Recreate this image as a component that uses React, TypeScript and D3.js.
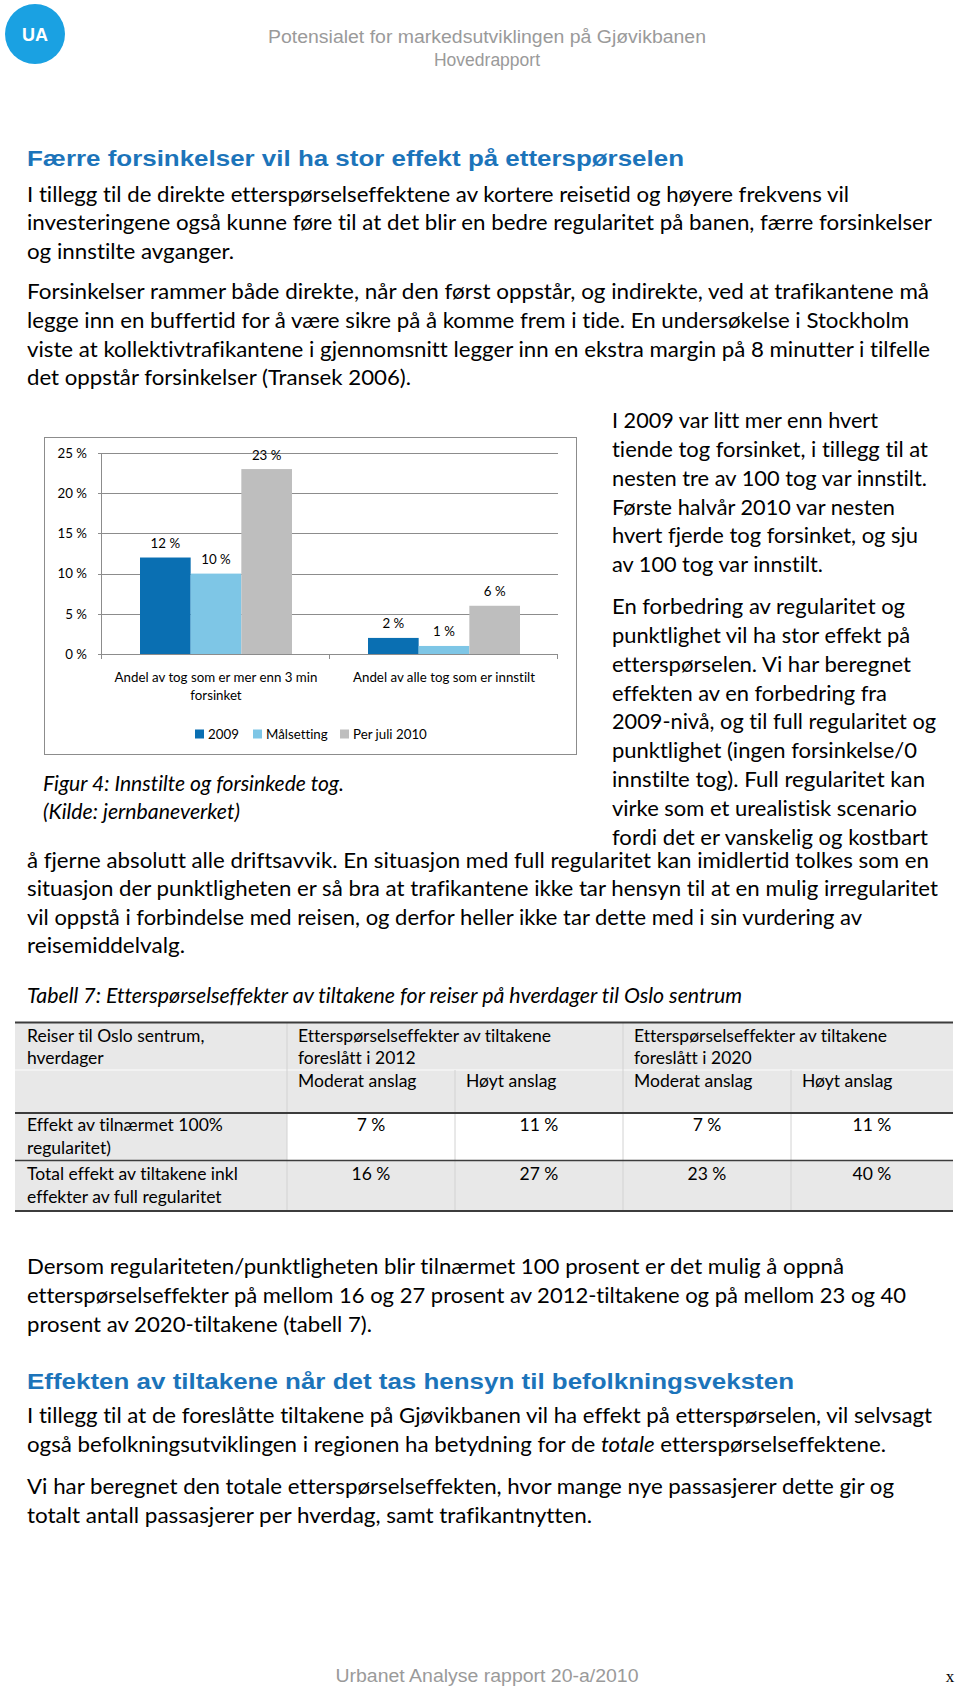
import React, { useEffect } from "react";
import * as d3 from "d3";

// ---------- chart data ----------
const categories = ["Andel av tog som er mer enn 3 min forsinket", "Andel av alle tog som er innstilt"];
const categoryLines = [["Andel av tog som er mer enn 3 min", "forsinket"], ["Andel av alle tog som er innstilt"]];
const seriesNames = ["2009", "Målsetting", "Per juli 2010"];
const seriesColors = ["#0A6FB2", "#7EC6E6", "#BEBEBE"];
const values2009 = [12, 2];
const valuesMalsetting = [10, 1];
const valuesPerJuli2010 = [23, 6];
const seriesValues = [values2009, valuesMalsetting, valuesPerJuli2010];
const yTicks = [0, 5, 10, 15, 20, 25];

// ---------- table data ----------
const tableHeader1 = ["Reiser til Oslo sentrum,|hverdager", "Etterspørselseffekter av tiltakene|foreslått i 2012", "Etterspørselseffekter av tiltakene|foreslått i 2020"];
const tableHeader2 = ["Moderat anslag", "Høyt anslag", "Moderat anslag", "Høyt anslag"];
const tableRowLabels = [["Effekt av tilnærmet 100%", "regularitet)"], ["Total effekt av tiltakene inkl", "effekter av full regularitet"]];
const tableRegularitet = ["7 %", "11 %", "7 %", "11 %"];
const tableTotal = ["16 %", "27 %", "23 %", "40 %"];

// ---------- page text ----------
const para1 = [
  ["I tillegg til de direkte etterspørselseffektene av kortere reisetid og høyere frekvens vil", 822],
  ["investeringene også kunne føre til at det blir en bedre regularitet på banen, færre forsinkelser", 905],
  ["og innstilte avganger.", 207],
];
const para2 = [
  ["Forsinkelser rammer både direkte, når den først oppstår, og indirekte, ved at trafikantene må", 902],
  ["legge inn en buffertid for å være sikre på å komme frem i tide. En undersøkelse i Stockholm", 882],
  ["viste at kollektivtrafikantene i gjennomsnitt legger inn en ekstra margin på 8 minutter i tilfelle", 903],
  ["det oppstår forsinkelser (Transek 2006).", 384],
];
const sideA = [
  ["I 2009 var litt mer enn hvert", 266],
  ["tiende tog forsinket, i tillegg til at", 316],
  ["nesten tre av 100 tog var innstilt.", 315],
  ["Første halvår 2010 var nesten", 283],
  ["hvert fjerde tog forsinket, og sju", 306],
  ["av 100 tog var innstilt.", 211],
];
const sideB = [
  ["En forbedring av regularitet og", 293],
  ["punktlighet vil ha stor effekt på", 298],
  ["etterspørselen. Vi har beregnet", 299],
  ["effekten av en forbedring fra", 275],
  ["2009-nivå, og til full regularitet og", 324],
  ["punktlighet (ingen forsinkelse/0", 305],
  ["innstilte tog). Full regularitet kan", 313],
  ["virke som et urealistisk scenario", 305],
  ["fordi det er vanskelig og kostbart", 316],
];
const para3 = [
  ["å fjerne absolutt alle driftsavvik. En situasjon med full regularitet kan imidlertid tolkes som en", 902],
  ["situasjon der punktligheten er så bra at trafikantene ikke tar hensyn til at en mulig irregularitet", 911],
  ["vil oppstå i forbindelse med reisen, og derfor heller ikke tar dette med i sin vurdering av", 835],
  ["reisemiddelvalg.", 158],
];
const para4 = [
  ["Dersom regulariteten/punktligheten blir tilnærmet 100 prosent er det mulig å oppnå", 817],
  ["etterspørselseffekter på mellom 16 og 27 prosent av 2012-tiltakene og på mellom 23 og 40", 879],
  ["prosent av 2020-tiltakene (tabell 7).", 345],
];
const para6 = [
  ["Vi har beregnet den totale etterspørselseffekten, hvor mange nye passasjerer dette gir og", 867],
  ["totalt antall passasjerer per hverdag, samt trafikantnytten.", 565],
];

const BODY = "Lato, 'Open Sans', sans-serif";
const ARIAL = "'Liberation Sans', Arial, sans-serif";
const NOLIG = { fontVariantLigatures: "none" as const, fontFeatureSettings: "'liga' 0, 'clig' 0" };

function T({ x, y, w, size = 21, fam = BODY, italic = false, bold = false, fill = "#000", anchor = "start", children }: any) {
  const extra: any = w ? { textLength: w, lengthAdjust: "spacingAndGlyphs" } : {};
  return (
    <text x={x} y={y} fontFamily={fam} fontSize={size} fontStyle={italic ? "italic" : "normal"}
      fontWeight={bold ? "bold" : "normal"} fill={fill} textAnchor={anchor} style={NOLIG} {...extra}>
      {children}
    </text>
  );
}

function Lines({ lines, x, y0, step }: any) {
  return (
    <g>
      {lines.map((l: any, i: number) => (
        <T key={i} x={x} y={y0 + i * step} w={l[1]}>{l[0]}</T>
      ))}
    </g>
  );
}

function Chart() {
  const x0 = d3.scaleBand().domain(categories).range([102, 558]).paddingInner(0).paddingOuter(0);
  const x1 = d3.scaleBand().domain(seriesNames).range([0, x0.bandwidth()]).paddingInner(0).paddingOuter(0.75);
  const y = d3.scaleLinear().domain([0, 25]).range([654, 453]);
  const grid = "#8C8C8C";
  const cfs = 13.3;
  const cy = (v: number) => Math.round(y(v)) + 0.5;
  const legendX = [195, 253, 340];
  return (
    <g>
      <rect x={44.5} y={437.5} width={532} height={317} fill="#fff" stroke="#8C8C8C" strokeWidth={1} />
      {yTicks.map((t) => (
        <g key={t}>
          {t > 0 && <line x1={102} x2={558} y1={cy(t)} y2={cy(t)} stroke={grid} strokeWidth={1} />}
          <line x1={98} x2={102} y1={cy(t)} y2={cy(t)} stroke={grid} strokeWidth={1} />
          <T x={87} y={y(t) + 4.7} size={cfs} anchor="end">{`${t} %`}</T>
        </g>
      ))}
      {seriesNames.map((s, si) =>
        categories.map((c, ci) => {
          const v = seriesValues[si][ci];
          const bx = (x0(c) as number) + (x1(s) as number);
          return (
            <g key={s + c}>
              <rect x={bx} y={y(v)} width={x1.bandwidth()} height={y(0) - y(v)} fill={seriesColors[si]} />
              <T x={bx + x1.bandwidth() / 2} y={y(v) - 9.5} size={cfs} anchor="middle">{`${v} %`}</T>
            </g>
          );
        })
      )}
      <line x1={101.5} x2={101.5} y1={y(25)} y2={y(0) + 0.5} stroke={grid} strokeWidth={1} />
      <line x1={98} x2={558} y1={cy(0)} y2={cy(0)} stroke={grid} strokeWidth={1} />
      {[102, (x0(categories[1]) as number), 558].map((tx, i) => (
        <line key={i} x1={Math.round(tx) - 0.5} x2={Math.round(tx) - 0.5} y1={654} y2={659} stroke={grid} strokeWidth={1} />
      ))}
      {categories.map((c, ci) =>
        categoryLines[ci].map((ln, li) => (
          <T key={c + li} x={(x0(c) as number) + x0.bandwidth() / 2} y={681.5 + li * 18} size={cfs} anchor="middle">{ln}</T>
        ))
      )}
      {seriesNames.map((s, si) => (
        <g key={s}>
          <rect x={legendX[si]} y={729.5} width={9} height={9} fill={seriesColors[si]} />
          <T x={legendX[si] + 13} y={738.7} size={cfs}>{s}</T>
        </g>
      ))}
    </g>
  );
}

function Table() {
  const xs = [15, 287, 455, 623, 791, 953];
  const ys = [1022.5, 1070, 1113, 1160.5, 1211];
  const bg = "#E8E8E8";
  const dark = "#3C3C3C";
  const sep = "#D2D2D2";
  const pad = 11;
  const fs = 17.5;
  const mid = (i: number) => (xs[i] + xs[i + 1]) / 2;
  return (
    <g>
      <rect x={xs[0]} y={ys[0]} width={xs[5] - xs[0]} height={ys[4] - ys[0]} fill={bg} />
      <rect x={xs[1]} y={ys[2]} width={xs[5] - xs[1]} height={ys[3] - ys[2]} fill="#fff" />
      <line x1={xs[0]} x2={xs[5]} y1={ys[1]} y2={ys[1]} stroke="#F6F6F6" strokeWidth={1.5} />
      {[1, 3].map((i) => (
        <line key={"a" + i} x1={xs[i]} x2={xs[i]} y1={ys[0]} y2={ys[4]} stroke={sep} strokeWidth={1} />
      ))}
      {[2, 4].map((i) => (
        <line key={"b" + i} x1={xs[i]} x2={xs[i]} y1={ys[1]} y2={ys[4]} stroke={sep} strokeWidth={1} />
      ))}
      <line x1={xs[0]} x2={xs[5]} y1={ys[0]} y2={ys[0]} stroke={dark} strokeWidth={2} />
      <line x1={xs[0]} x2={xs[5]} y1={ys[2]} y2={ys[2]} stroke={dark} strokeWidth={2} />
      <line x1={xs[0]} x2={xs[5]} y1={ys[3]} y2={ys[3]} stroke={dark} strokeWidth={1.5} />
      <line x1={xs[0]} x2={xs[5]} y1={ys[4]} y2={ys[4]} stroke={dark} strokeWidth={2} />
      {tableHeader1.map((h, i) => {
        const cx = [xs[0], xs[1], xs[3]][i] + (i === 0 ? 12 : pad);
        return h.split("|").map((ln, li) => (
          <T key={h + li} x={cx} y={1042 + li * 22} size={fs}>{ln}</T>
        ));
      })}
      {tableHeader2.map((h, i) => (
        <T key={"h2" + i} x={xs[i + 1] + pad} y={1087} size={fs}>{h}</T>
      ))}
      {tableRowLabels.map((r, ri) =>
        r.map((ln, li) => (
          <T key={ln} x={27} y={(ri === 0 ? 1131 : 1180) + li * 23} size={fs}>{ln}</T>
        ))
      )}
      {tableRegularitet.map((v, i) => (
        <T key={"r" + i} x={mid(i + 1)} y={1131} size={fs} anchor="middle">{v}</T>
      ))}
      {tableTotal.map((v, i) => (
        <T key={"t" + i} x={mid(i + 1)} y={1180} size={fs} anchor="middle">{v}</T>
      ))}
    </g>
  );
}

export default function App() {
  useEffect(() => {
    document.body.style.margin = "0";
    document.body.style.overflow = "hidden";
  }, []);
  return (
    <svg width={960} height={1688} style={{ position: "absolute", left: 0, top: 0, display: "block", background: "#fff" }}>
      <rect x={0} y={0} width={960} height={1688} fill="#fff" />
      {/* header */}
      <circle cx={35} cy={34} r={30} fill="#1AA1E2" />
      <T x={35} y={40.5} size={18} fam={ARIAL} bold fill="#fff" anchor="middle">UA</T>
      <T x={268} y={43} w={438} size={17.5} fam={ARIAL} fill="#9A9A9A">Potensialet for markedsutviklingen på Gjøvikbanen</T>
      <T x={487} y={66} size={17.5} fam={ARIAL} fill="#9A9A9A" anchor="middle">Hovedrapport</T>

      <T x={27} y={165.5} w={657} size={22} fam={ARIAL} bold fill="#1C74BA">Færre forsinkelser vil ha stor effekt på etterspørselen</T>
      <Lines lines={para1} x={27} y0={201.5} step={28.7} />
      <Lines lines={para2} x={27} y0={299} step={28.8} />

      <Chart />
      <T x={43} y={791} w={301} italic>Figur 4: Innstilte og forsinkede tog.</T>
      <T x={43} y={819} w={197} italic>(Kilde: jernbaneverket)</T>

      <Lines lines={sideA} x={612} y0={428} step={28.85} />
      <Lines lines={sideB} x={612} y0={614} step={28.85} />

      <Lines lines={para3} x={27} y0={868} step={28.4} />
      <T x={27} y={1003} w={715} italic>Tabell 7: Etterspørselseffekter av tiltakene for reiser på hverdager til Oslo sentrum</T>

      <Table />

      <Lines lines={para4} x={27} y0={1274} step={29} />
      <T x={27} y={1388.5} w={767} size={22} fam={ARIAL} bold fill="#1C74BA">Effekten av tiltakene når det tas hensyn til befolkningsveksten</T>
      <T x={27} y={1423} w={905}>I tillegg til at de foreslåtte tiltakene på Gjøvikbanen vil ha effekt på etterspørselen, vil selvsagt</T>
      <text x={27} y={1452} fontFamily={BODY} fontSize={21} fill="#000" style={NOLIG} textLength={859} lengthAdjust="spacingAndGlyphs">
        også befolkningsutviklingen i regionen ha betydning for de <tspan fontStyle="italic">totale</tspan> etterspørselseffektene.
      </text>
      <Lines lines={para6} x={27} y0={1494} step={29} />

      {/* footer */}
      <T x={487} y={1682} w={303} size={17.5} fam={ARIAL} fill="#9A9A9A" anchor="middle">Urbanet Analyse rapport 20-a/2010</T>
      <T x={950} y={1682} size={17} fam="'Liberation Serif', 'DejaVu Serif', serif" anchor="middle">x</T>
    </svg>
  );
}
